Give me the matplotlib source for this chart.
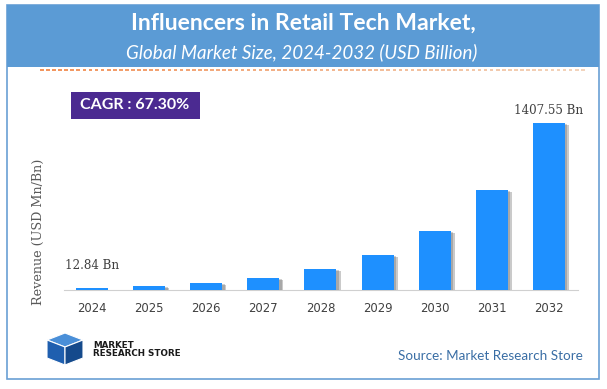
import matplotlib.pyplot as plt
import matplotlib.patches as mpatches
import matplotlib.patheffects as pe
from matplotlib.collections import LineCollection
import numpy as np

years = ['2024', '2025', '2026', '2027', '2028', '2029', '2030', '2031', '2032']
revenue = [12.84, 35, 60, 101, 179, 297, 497, 841, 1407.55]
first_label = '12.84 Bn'
last_label = '1407.55 Bn'
title = 'Influencers in Retail Tech Market,'
subtitle = 'Global Market Size, 2024-2032 (USD Billion)'
cagr = 'CAGR : 67.30%'
source = 'Source: Market Research Store'

W, H = 607, 389
fig = plt.figure(figsize=(W / 100, H / 100), dpi=100)


def fx(x):
    return x / W


def fy(y):
    return 1 - y / H


# frame and header band
fig.patches.append(mpatches.Rectangle((fx(7), fy(379)), fx(592), 374 / H, transform=fig.transFigure,
                                      facecolor='white', edgecolor='#6A9FD4', lw=1.2))
fig.patches.append(mpatches.Rectangle((fx(7), fy(67)), fx(592), 62 / H, transform=fig.transFigure,
                                      facecolor='#5B9BD5', edgecolor='none'))
fig.text(fx(303), fy(23), title, color='white', fontsize=16.6, fontweight='bold', family='Lato',
         ha='center', va='center')
fig.text(fx(302), fy(52), subtitle, color='white', fontsize=13.5, style='italic', family='Lato',
         ha='center', va='center')

# dashed orange line fading right
xs = np.linspace(fx(40), fx(581), 90)
segs = [[(xs[i], fy(70)), (xs[i] + (xs[1] - xs[0]) * 0.6, fy(70))] for i in range(len(xs))]
cols = [(0.94, 0.50 + 0.30 * t, 0.24 + 0.45 * t) for t in np.linspace(0, 1, len(xs))]
fig.add_artist(LineCollection(segs, colors=cols, lw=1.2, transform=fig.transFigure))

# CAGR box
fig.patches.append(mpatches.Rectangle((fx(71), fy(119)), fx(129), 27 / H, transform=fig.transFigure,
                                      facecolor='#4B2A91', edgecolor='none'))
fig.text(fx(135), fy(105), cagr, color='white', fontsize=11.5, fontweight='bold', family='Lato',
         ha='center', va='center')

# bar chart
top = 1600
ax_h = top / revenue[-1] * 167.3
ax = fig.add_axes([fx(64), fy(290), fx(578 - 64), ax_h / H])
ax.set_zorder(5)
ax.patch.set_visible(False)
x = np.arange(len(years))
bars = ax.bar(x, revenue, width=0.56, color='#1E90FF', zorder=3)
for b in bars:
    b.set_path_effects([pe.SimplePatchShadow(offset=(3, -1.5), shadow_rgbFace='#444444', alpha=0.28),
                        pe.SimplePatchShadow(offset=(1.8, -1), shadow_rgbFace='#444444', alpha=0.25),
                        pe.Normal()])
ax.set_xlim(-0.49, 8.51)
ax.set_ylim(0, top)
for s in ['top', 'right', 'left']:
    ax.spines[s].set_visible(False)
ax.spines['bottom'].set_color('#D0D0D0')
ax.set_yticks([])
ax.set_xticks(x)
ax.set_xticklabels(years, fontsize=8.4, color='#404040')
ax.tick_params(axis='x', length=0, pad=9)
ax.annotate(first_label, (0, revenue[0]), xytext=(0, 12), textcoords='offset points', ha='center',
            va='bottom', fontsize=8.6, family='DejaVu Serif', color='#404040')
ax.annotate(last_label, (8, revenue[-1]), xytext=(0, 4), textcoords='offset points', ha='center',
            va='bottom', fontsize=8.6, family='DejaVu Serif', color='#404040')
fig.text(fx(38), fy(232), 'Revenue (USD Mn/Bn)', rotation=90, fontsize=9.2, family='DejaVu Serif',
         color='#595959', ha='center', va='center')

# logo
cube_top = [(47, 340), (65, 333), (83, 340), (65, 347)]
cube_left = [(47, 340), (65, 347), (65, 365), (47, 358)]
cube_right = [(65, 347), (83, 340), (83, 358), (65, 365)]
for poly, c in [(cube_top, '#4A8FD8'), (cube_left, '#1F5FAF'), (cube_right, '#154A8C')]:
    fig.patches.append(mpatches.Polygon([(fx(a), fy(b)) for a, b in poly], closed=True,
                                        transform=fig.transFigure, facecolor=c, edgecolor='white', lw=0.8))
fig.text(fx(93), fy(345), 'MARKET', fontsize=6.3, fontweight='bold', color='#1a1a1a', va='center')
fig.text(fx(93), fy(353), 'RESEARCH STORE', fontsize=6.3, fontweight='bold', color='#1a1a1a', va='center')

fig.text(fx(583), fy(356), source, fontsize=9.7, family='Lato', color='#3A6EA5', ha='right', va='center')

fig.savefig('out.png', dpi=100)
